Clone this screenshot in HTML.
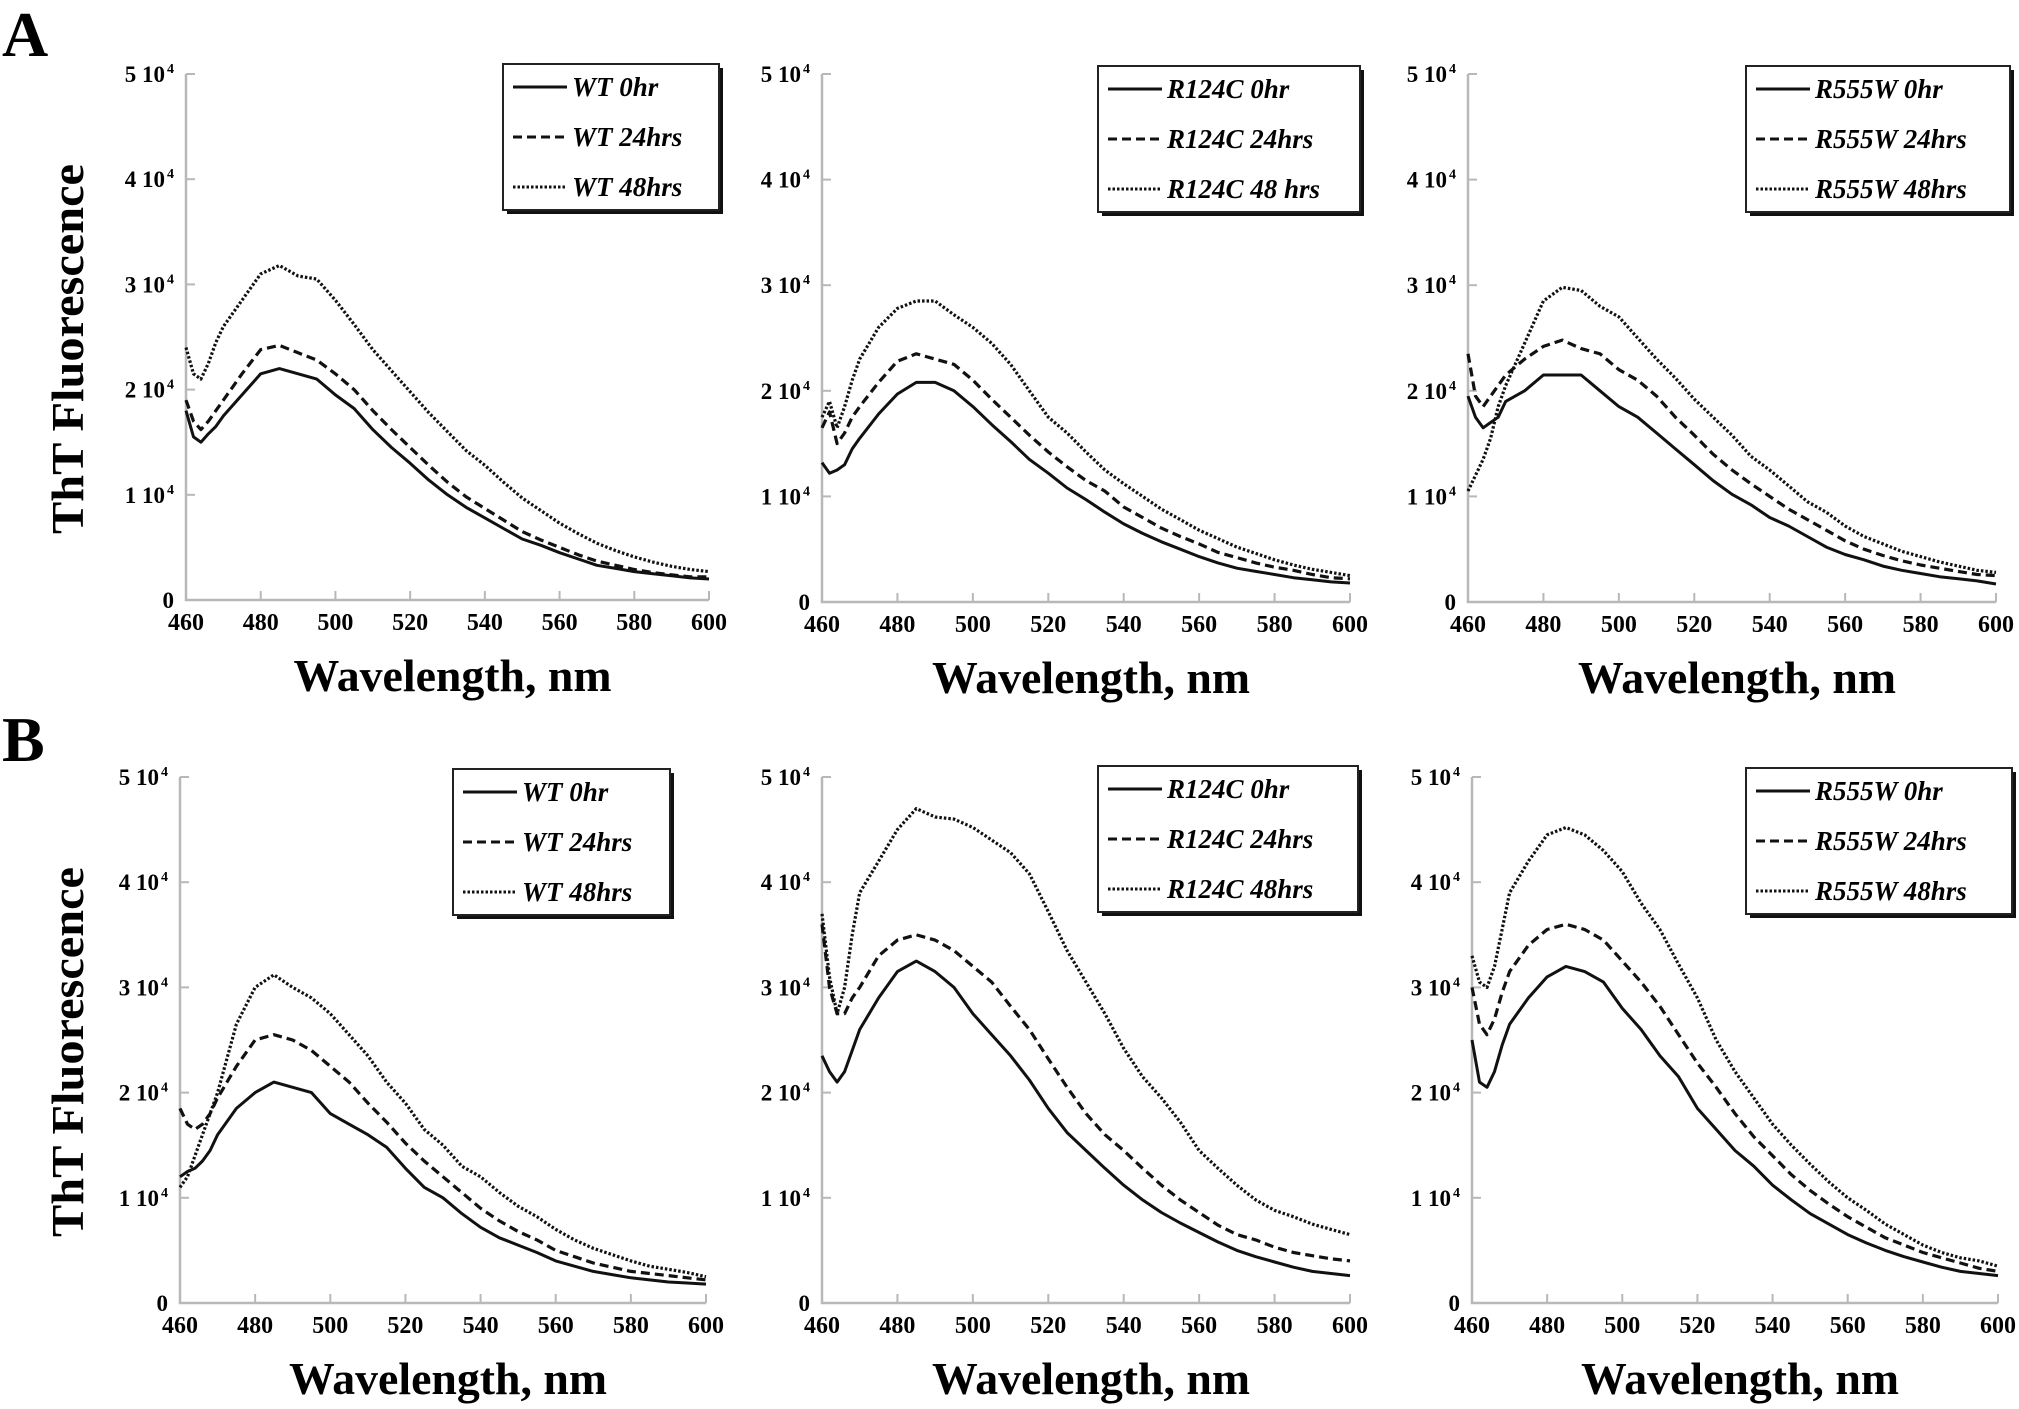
<!DOCTYPE html>
<html><head><meta charset="utf-8"><style>
html,body{margin:0;padding:0;background:#fff;}
svg{display:block;font-family:"Liberation Serif",serif;}
</style></head><body>
<svg id="fig" width="2019" height="1409" viewBox="0 0 2019 1409" xmlns="http://www.w3.org/2000/svg">
<text x="2" y="56" font-size="64" font-weight="bold">A</text>
<text x="2" y="761" font-size="64" font-weight="bold">B</text>
</svg>
<script>
const wavelengths = [460,462,464,466,468,470,475,480,485,490,495,500,505,510,515,520,525,530,535,540,545,550,555,560,565,570,575,580,585,590,595,600];
const xTicks = [460,480,500,520,540,560,580,600];
const yTicks = [0,1,2,3,4,5];
const yTickLabels = ["0","1 10","2 10","3 10","4 10","5 10"];
const seriesLabelsWT = ["WT 0hr","WT 24hrs","WT 48hrs"];
const seriesLabelsR124A = ["R124C 0hr","R124C 24hrs","R124C 48 hrs"];
const seriesLabelsR124B = ["R124C 0hr","R124C 24hrs","R124C 48hrs"];
const seriesLabelsR555 = ["R555W 0hr","R555W 24hrs","R555W 48hrs"];
// values in units of 10^4
const a1_0 = [1.8,1.55,1.5,1.58,1.65,1.75,1.95,2.15,2.2,2.15,2.1,1.95,1.82,1.62,1.45,1.3,1.14,1.0,0.88,0.78,0.68,0.58,0.52,0.45,0.39,0.33,0.3,0.27,0.25,0.23,0.21,0.2];
const a1_24 = [1.9,1.7,1.62,1.7,1.8,1.9,2.15,2.38,2.42,2.35,2.28,2.15,2.0,1.8,1.62,1.45,1.28,1.12,0.98,0.87,0.76,0.65,0.57,0.5,0.43,0.37,0.33,0.29,0.26,0.24,0.22,0.22];
const a1_48 = [2.4,2.15,2.1,2.25,2.45,2.6,2.85,3.1,3.18,3.08,3.05,2.85,2.62,2.38,2.18,1.98,1.78,1.6,1.42,1.28,1.12,0.97,0.85,0.73,0.63,0.54,0.47,0.41,0.36,0.32,0.29,0.27];
const a2_0 = [1.32,1.22,1.25,1.3,1.45,1.55,1.78,1.97,2.08,2.08,2.0,1.85,1.68,1.52,1.35,1.22,1.08,0.97,0.85,0.74,0.65,0.57,0.5,0.43,0.37,0.32,0.29,0.26,0.23,0.21,0.19,0.18];
const a2_24 = [1.65,1.8,1.5,1.6,1.75,1.85,2.08,2.28,2.35,2.3,2.25,2.1,1.92,1.75,1.58,1.42,1.28,1.15,1.05,0.9,0.8,0.7,0.62,0.55,0.47,0.42,0.37,0.33,0.3,0.26,0.23,0.22];
const a2_48 = [1.75,1.9,1.65,1.85,2.1,2.3,2.6,2.78,2.85,2.85,2.72,2.6,2.45,2.25,2.0,1.75,1.6,1.42,1.25,1.12,1.0,0.88,0.78,0.68,0.6,0.52,0.46,0.4,0.35,0.31,0.28,0.25];
const a3_0 = [1.95,1.75,1.65,1.7,1.75,1.9,2.0,2.15,2.15,2.15,2.0,1.85,1.75,1.6,1.45,1.3,1.15,1.02,0.92,0.8,0.72,0.62,0.52,0.45,0.4,0.34,0.3,0.27,0.24,0.22,0.2,0.17];
const a3_24 = [2.35,1.95,1.85,1.95,2.05,2.15,2.3,2.42,2.48,2.4,2.35,2.2,2.1,1.95,1.75,1.58,1.4,1.25,1.12,1.0,0.88,0.78,0.68,0.58,0.5,0.44,0.39,0.35,0.32,0.29,0.26,0.25];
const a3_48 = [1.05,1.2,1.35,1.55,1.85,2.05,2.45,2.85,2.98,2.95,2.8,2.7,2.5,2.3,2.12,1.92,1.75,1.58,1.38,1.25,1.1,0.95,0.85,0.72,0.62,0.55,0.48,0.43,0.38,0.34,0.3,0.28];
const b1_0 = [1.2,1.25,1.28,1.35,1.45,1.6,1.85,2.0,2.1,2.05,2.0,1.8,1.7,1.6,1.48,1.28,1.1,1.0,0.85,0.72,0.62,0.55,0.48,0.4,0.35,0.3,0.27,0.24,0.22,0.2,0.19,0.18];
const b1_24 = [1.85,1.7,1.65,1.7,1.8,1.95,2.25,2.5,2.55,2.5,2.4,2.25,2.1,1.9,1.72,1.52,1.35,1.2,1.05,0.9,0.78,0.68,0.6,0.5,0.44,0.38,0.34,0.3,0.28,0.26,0.24,0.22];
const b1_48 = [1.1,1.2,1.4,1.6,1.8,2.0,2.65,3.0,3.12,3.0,2.9,2.75,2.55,2.35,2.1,1.9,1.65,1.5,1.3,1.2,1.05,0.92,0.82,0.7,0.6,0.52,0.46,0.4,0.35,0.32,0.29,0.25];
const b2_0 = [2.35,2.2,2.1,2.2,2.4,2.6,2.9,3.15,3.25,3.15,3.0,2.75,2.55,2.35,2.12,1.85,1.62,1.45,1.28,1.12,0.98,0.86,0.76,0.67,0.58,0.5,0.44,0.39,0.34,0.3,0.28,0.26];
const b2_24 = [3.6,3.0,2.75,2.75,2.9,3.0,3.3,3.45,3.5,3.45,3.35,3.2,3.05,2.82,2.6,2.32,2.05,1.8,1.6,1.45,1.28,1.12,0.98,0.86,0.74,0.65,0.6,0.53,0.48,0.45,0.42,0.4];
const b2_48 = [3.7,3.1,2.75,3.0,3.5,3.9,4.2,4.5,4.7,4.62,4.6,4.52,4.4,4.28,4.08,3.72,3.35,3.05,2.75,2.42,2.15,1.95,1.72,1.45,1.28,1.12,0.98,0.88,0.82,0.75,0.7,0.65];
const b3_0 = [2.5,2.1,2.05,2.2,2.45,2.65,2.9,3.1,3.2,3.15,3.05,2.8,2.6,2.35,2.15,1.85,1.65,1.45,1.3,1.12,0.98,0.85,0.75,0.65,0.57,0.5,0.44,0.39,0.34,0.3,0.28,0.26];
const b3_24 = [3.0,2.65,2.55,2.7,2.95,3.15,3.4,3.55,3.6,3.55,3.45,3.25,3.05,2.82,2.55,2.28,2.05,1.8,1.58,1.4,1.22,1.07,0.94,0.82,0.72,0.62,0.55,0.48,0.43,0.38,0.33,0.3];
const b3_48 = [3.3,3.05,3.0,3.2,3.55,3.9,4.2,4.45,4.52,4.45,4.3,4.1,3.8,3.55,3.22,2.9,2.5,2.2,1.95,1.7,1.5,1.32,1.15,1.0,0.88,0.75,0.65,0.55,0.48,0.43,0.4,0.35];

const NS = "http://www.w3.org/2000/svg";
const svg = document.getElementById('fig');
const dashes = [null, "9,5", "2.5,2"];
function mk(tag, attrs, parent){ const e=document.createElementNS(NS,tag); for(const k in attrs) e.setAttribute(k,attrs[k]); (parent||svg).appendChild(e); return e; }

const panels = [
 {id:'a1', x0:186, x1:709, yT:74, y0:600, data:[a1_0,a1_24,a1_48], labels:seriesLabelsWT, lg:[503,64,216,146], ytitle:true},
 {id:'a2', x0:822, x1:1350, yT:74, y0:602, data:[a2_0,a2_24,a2_48], labels:seriesLabelsR124A, lg:[1098,66,262,146]},
 {id:'a3', x0:1468, x1:1996, yT:74, y0:602, data:[a3_0,a3_24,a3_48], labels:seriesLabelsR555, lg:[1746,66,264,146]},
 {id:'b1', x0:180, x1:706, yT:777, y0:1303, data:[b1_0,b1_24,b1_48], labels:seriesLabelsWT, lg:[453,769,217,146], ytitle:true},
 {id:'b2', x0:822, x1:1350, yT:777, y0:1303, data:[b2_0,b2_24,b2_48], labels:seriesLabelsR124B, lg:[1098,766,260,146]},
 {id:'b3', x0:1472, x1:1998, yT:777, y0:1303, data:[b3_0,b3_24,b3_48], labels:seriesLabelsR555, lg:[1746,768,266,146]}
];

panels.forEach(p=>{
  const g = mk('g',{});
  
  
  const sx = v => p.x0 + (v-460)/(600-460)*(p.x1-p.x0);
  const sy = v => p.y0 - v/5*(p.y0-p.yT);
  // axes
  const ax = mk('path',{d:`M${p.x0},${p.yT} V${p.y0} H${p.x1}`, fill:'none', stroke:'#b8b8b8', 'stroke-width':2.5}, g);
  
  
  yTicks.forEach((t,i)=>{
    const y=sy(t);
    mk('line',{x1:p.x0,x2:p.x0+9,y1:y,y2:y,stroke:'#b8b8b8','stroke-width':2},g);
    const tx = mk('text',{x:p.x0-12,y:y+8,'font-size':23,'font-weight':'bold','text-anchor':'end'},g);
    
    
    if(t===0){ tx.textContent=yTickLabels[i]; }
    else { tx.textContent=yTickLabels[i]; tx.setAttribute('dx','-9');
      const sup = mk('text',{x:p.x0-12,y:y-1,'font-size':14,'font-weight':'bold','text-anchor':'end'},g);
      sup.textContent='4';
      
      
    }
  });
  xTicks.forEach(t=>{
    const x=sx(t);
    mk('line',{x1:x,x2:x,y1:p.y0,y2:p.y0-9,stroke:'#b8b8b8','stroke-width':2},g);
    const tx = mk('text',{x:x,y:p.y0+30,'font-size':24,'font-weight':'bold','text-anchor':'middle'},g);
    tx.textContent = t;
    
    
  });
  const xt = mk('text',{x:(p.x0+p.x1)/2+5,y:p.y0+91,'font-size':46,'font-weight':'bold','text-anchor':'middle',textLength:318,lengthAdjust:'spacingAndGlyphs'},g);
  xt.textContent='Wavelength, nm';
  
  
  if(p.ytitle){
    const cy=(p.yT+p.y0)/2+12;
    const yt = mk('text',{x:0,y:0,'font-size':46,'font-weight':'bold','text-anchor':'middle',textLength:370,lengthAdjust:'spacingAndGlyphs',transform:`translate(83,${cy}) rotate(-90)`},g);
    yt.textContent='ThT Fluorescence';
    
    
  }
  p.data.forEach((arr,si)=>{
    let d='';
    for(let i=0;i<Math.min(arr.length,wavelengths.length);i++){ d += (i?'L':'M') + sx(wavelengths[i]).toFixed(1)+','+sy(arr[i]).toFixed(1); }
    const path = mk('path',{d:d,fill:'none',stroke:'#111','stroke-width':si===0?3:3.2,'stroke-linejoin':'round'},g);
    if(dashes[si]) path.setAttribute('stroke-dasharray',dashes[si]);
    
    
  });
  // legend
  const [lx,ly,lw,lh] = p.lg;
  const lgG = mk('g',{},g);
  
  
  mk('rect',{x:lx+4,y:ly+4,width:lw,height:lh,fill:'#111'},lgG);
  mk('rect',{x:lx,y:ly,width:lw,height:lh,fill:'#fff',stroke:'#222','stroke-width':2},lgG);
  p.labels.forEach((lab,i)=>{
    const y = ly+23+i*50;
    const ln = mk('line',{x1:lx+10,x2:lx+64,y1:y,y2:y,stroke:'#111','stroke-width':3},lgG);
    if(dashes[i]) ln.setAttribute('stroke-dasharray',dashes[i]);
    
    
    const t = mk('text',{x:lx+69,y:y+9,'font-size':27,'font-weight':'bold','font-style':'italic'},lgG);
    t.textContent=lab;
    
    
  });
});
</script>
</body></html>
